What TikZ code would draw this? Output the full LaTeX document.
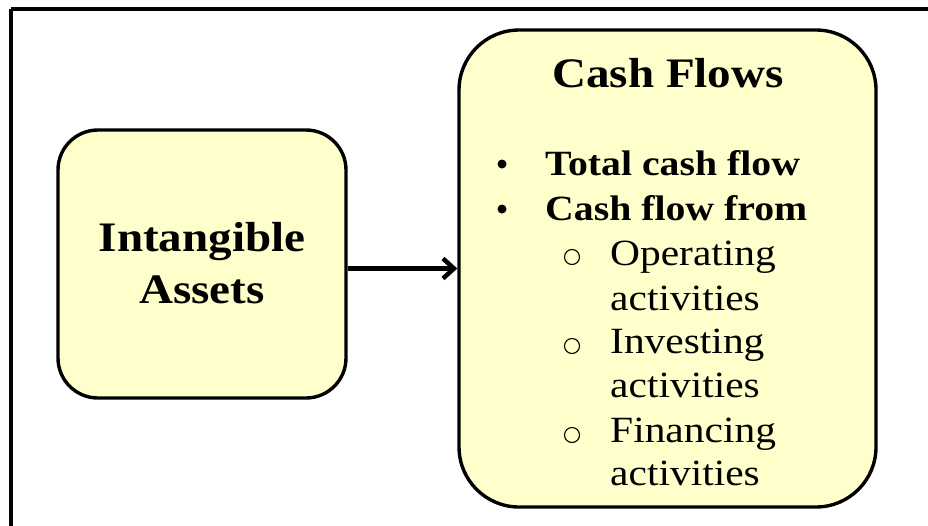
\documentclass[tikz,border=0pt]{standalone}
\usepackage{fontspec}
\setmainfont{Liberation Serif}[FakeStretch=1.12]
\usetikzlibrary{arrows.meta}
\definecolor{boxfill}{HTML}{FFFFCC}
\tikzset{
  ybox/.style={draw=black, line width=3.4pt, fill=boxfill, inner sep=0pt},
  big/.style={font=\fontsize{42}{52}\selectfont\bfseries, align=center},
  ttl/.style={font=\fontsize{42}{50}\selectfont\bfseries, anchor=base},
  itemb/.style={font=\fontsize{35.5}{44}\selectfont\bfseries, anchor=base west, inner sep=0pt},
  itemr/.style={font=\fontsize{37}{44}\selectfont, anchor=base west, inner sep=0pt},
  dotb/.style={circle, fill=black, inner sep=0pt, minimum size=9pt},
  circb/.style={circle, draw=black, line width=1.1pt, inner sep=0pt, minimum size=15pt},
}
\begin{document}
\begin{tikzpicture}[x=1pt,y=-1pt]
\useasboundingbox (0,0) rectangle (928,525);
\draw[line width=4pt] (11,9) -- (940,9);
\draw[line width=4pt] (11,9) -- (11,540);
\node[ybox, rounded corners=40pt, minimum width=288pt, minimum height=268pt] (ia) at (202,264) {};
\node[big] (iat) at (202,263) {Intangible\\Assets};
\node[ybox, rounded corners=60pt, minimum width=417pt, minimum height=477pt] (cf) at (667.5,268.5) {};
\node[ttl] (cft) at (668,87) {Cash Flows};
\node[dotb] (b1) at (502,164) {};
\node[itemb] (t1) at (545,175) {Total cash flow};
\node[dotb] (b2) at (502,209) {};
\node[itemb] (t2) at (545,220) {Cash flow from};
\node[circb] (c1) at (572,257) {};
\node[itemr] (o1) at (610,265) {Operating};
\node[itemr] (o1b) at (610,310) {activities};
\node[circb] (c2) at (572,346) {};
\node[itemr] (o2) at (610,353) {Investing};
\node[itemr] (o2b) at (610,397) {activities};
\node[circb] (c3) at (572,435) {};
\node[itemr] (o3) at (610,442) {Financing};
\node[itemr] (o3b) at (610,485) {activities};
\draw[line width=4.5pt, -{Straight Barb[length=11pt,width=20pt]}] (ia.east |- cf.west) -- (cf.west);
\end{tikzpicture}
\end{document}
